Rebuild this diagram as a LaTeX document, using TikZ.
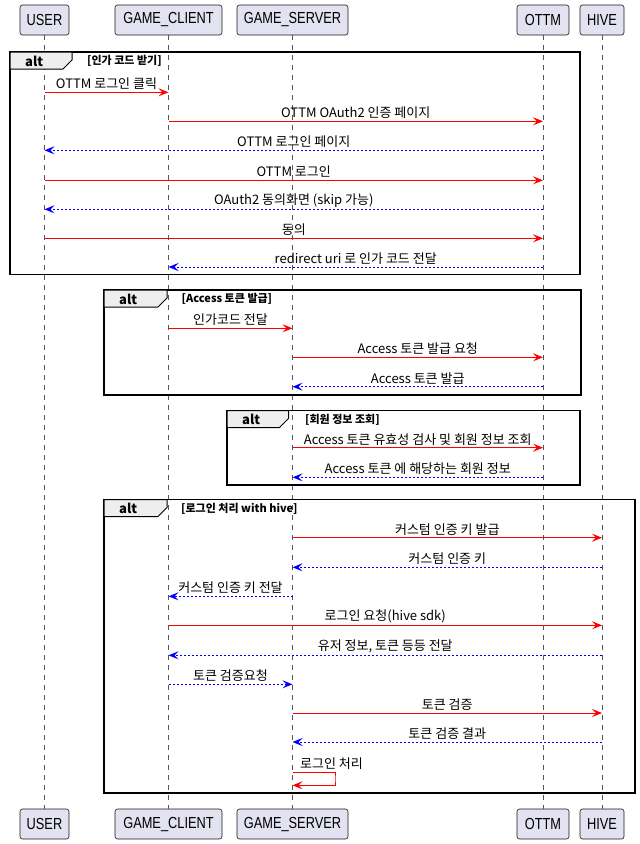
\documentclass[tikz,border=0pt]{standalone}
\usepackage{fontspec}
\setmainfont{Noto Sans CJK KR}
\newfontfamily\partfont[FakeStretch=0.8]{Liberation Sans}
\usetikzlibrary{arrows.meta}
\definecolor{partfill}{HTML}{E2E2F0}
\definecolor{partline}{HTML}{181818}
\definecolor{tabfill}{HTML}{EEEEEE}
\definecolor{lifegray}{HTML}{555555}
\tikzset{
 part/.style={draw=partline, fill=partfill, rounded corners=2.5pt, minimum height=30pt, inner sep=0pt, font=\partfont\fontsize{16}{18}\selectfont, line width=0.6pt},
 life/.style={draw=lifegray, dash pattern=on 5pt off 5pt, line width=0.6pt},
 tipst/.style={-{Stealth[length=10pt,width=8pt,inset=4pt]}},
 req/.style={tipst, draw=red, line width=1pt},
 resp/.style={tipst, draw=blue, line width=1pt, dash pattern=on 2pt off 2pt},
 lbl/.style={font=\fontsize{13}{15}\selectfont, inner sep=0pt},
 frm/.style={draw=black, line width=1.5pt},
 tabbox/.style={draw=black, fill=tabfill, line width=1pt},
 alttxt/.style={font=\bfseries\fontsize{13}{15}\selectfont, anchor=west, inner sep=0pt},
 guard/.style={font=\bfseries\fontsize{11}{13}\selectfont, anchor=west, inner sep=0pt},
}
\newcommand\msgarrow[6]{%
  \draw[#5] (#2 |- 0,#4) -- (#3 |- 0,#4);
  \path (#2 |- 0,#4) -- (#3 |- 0,#4) node[midway, yshift=8.5pt, lbl] (#1) {#6};}
\newcommand\altframe[8]{%
  \draw[frm] (#2,#3) rectangle (#4,#5);
  \draw[tabbox] (#2,#3) -- (#6,#3) -- (#6,#3+8) -- (#6-9,#3+17) -- (#2,#3+17) -- cycle;
  \node[alttxt] (#1alt) at (#2+15,#3+9) {alt};
  \node[guard] (#1g) at (#7,#3+9) {#8};}
\begin{document}
\begin{tikzpicture}[x=1pt,y=-1pt]
\useasboundingbox (0,0) rectangle (640,844);
% participants
\node[part, minimum width=49pt] (userT) at (44.5,20) {USER};
\node[part, minimum width=107pt] (gcT) at (168.5,20) {GAME\_CLIENT};
\node[part, minimum width=111pt] (gsT) at (292.5,20) {GAME\_SERVER};
\node[part, minimum width=52pt] (ottmT) at (543,20) {OTTM};
\node[part, minimum width=44pt] (hiveT) at (602,20) {HIVE};
\node[part, minimum width=49pt] (userB) at (44.5,824) {USER};
\node[part, minimum width=107pt] (gcB) at (168.5,824) {GAME\_CLIENT};
\node[part, minimum width=111pt] (gsB) at (292.5,824) {GAME\_SERVER};
\node[part, minimum width=52pt] (ottmB) at (543,824) {OTTM};
\node[part, minimum width=44pt] (hiveB) at (602,824) {HIVE};
% lifelines
\foreach \p in {user,gc,gs,ottm,hive}{
  \draw[life] (\p T.south) -- (\p B.north);
}
% frame 1
\altframe{fa}{10}{52}{580}{274.5}{72}{87}{[인가 코드 받기]}
\msgarrow{m1}{userT}{gcT}{92.3}{req}{OTTM 로그인 클릭}
\msgarrow{m2}{gcT}{ottmT}{121.3}{req}{OTTM OAuth2 인증 페이지}
\msgarrow{m3}{ottmT}{userT}{150.3}{resp}{OTTM 로그인 페이지}
\msgarrow{m4}{userT}{ottmT}{180.3}{req}{OTTM 로그인}
\msgarrow{m5}{ottmT}{userT}{209.3}{resp}{OAuth2 동의화면 (skip 가능)}
\msgarrow{m6}{userT}{ottmT}{238.3}{req}{동의}
\msgarrow{m7}{ottmT}{gcT}{267}{resp}{redirect uri 로 인가 코드 전달}
% frame 2
\altframe{fb}{104}{290}{581}{395}{167}{181.5}{[Access 토큰 발급]}
\msgarrow{m8}{gcT}{gsT}{328.3}{req}{인가코드 전달}
\msgarrow{m9}{gsT}{ottmT}{357.3}{req}{Access 토큰 발급 요청}
\msgarrow{m10}{ottmT}{gsT}{386.7}{resp}{Access 토큰 발급}
% frame 3
\altframe{fc}{227}{410.5}{580}{485}{288.5}{305}{[회원 정보 조회]}
\msgarrow{m11}{gsT}{ottmT}{447.7}{req}{Access 토큰 유효성 검사 및 회원 정보 조회}
\msgarrow{m12}{ottmT}{gsT}{477.3}{resp}{Access 토큰 에 해당하는 회원 정보}
% frame 4
\altframe{fd}{104}{499.5}{635}{793}{167}{181}{[로그인 처리 with hive]}
\msgarrow{m13}{gsT}{hiveT}{537.7}{req}{커스텀 인증 키 발급}
\msgarrow{m14}{hiveT}{gsT}{567.3}{resp}{커스텀 인증 키}
\msgarrow{m15}{gsT}{gcT}{596.3}{resp}{커스텀 인증 키 전달}
\msgarrow{m16}{gcT}{hiveT}{625.3}{req}{로그인 요청(hive sdk)}
\msgarrow{m17}{hiveT}{gcT}{655.3}{resp}{유저 정보, 토큰 등등 전달}
\msgarrow{m18}{gcT}{gsT}{684.3}{resp}{토큰 검증요청}
\msgarrow{m19}{gsT}{hiveT}{713}{req}{토큰 검증}
\msgarrow{m20}{hiveT}{gsT}{742}{resp}{토큰 검증 결과}
% self message
\coordinate (loopc) at (335,778.8);
\draw[req] (gsT |- 0,772.3) -| (loopc) |- (gsT |- 0,785.3);
\node[lbl, anchor=west] (m21) at (300,764) {로그인 처리};
\end{tikzpicture}
\end{document}
